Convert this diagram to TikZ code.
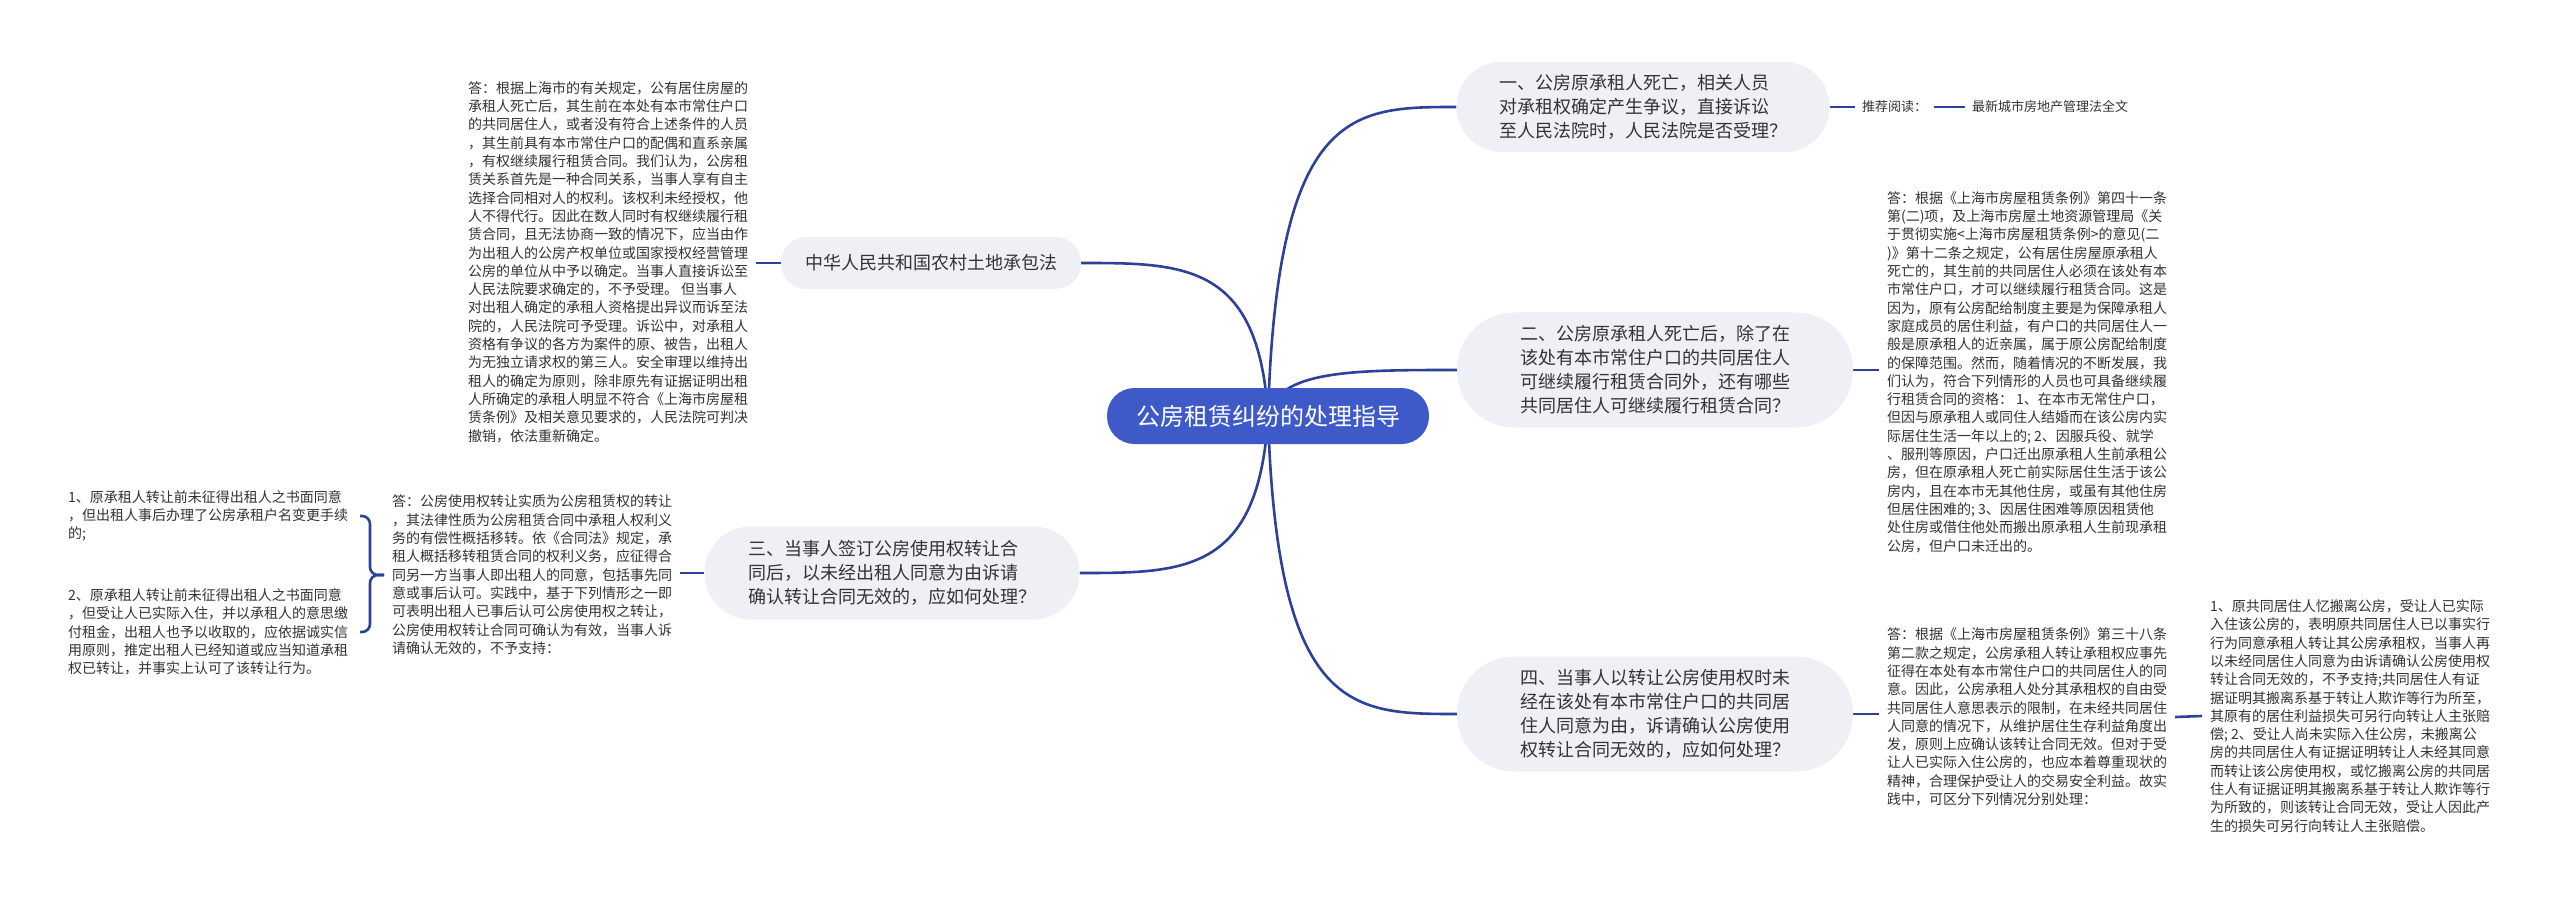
\documentclass[tikz,border=0pt]{standalone}
\usepackage{fontspec}
\setmainfont{Noto Sans CJK SC}
\usetikzlibrary{calc}
\definecolor{rootblue}{HTML}{3D5AC8}
\definecolor{lineblue}{HTML}{2E4199}
\definecolor{bubfill}{HTML}{EEF0F5}
\definecolor{txtgray}{HTML}{333333}
\pgfdeclarelayer{bg}
\pgfsetlayers{bg,main}
\begin{document}
\begin{tikzpicture}[x=1pt,y=-1pt,
  conn/.style={draw=lineblue, line width=2.6pt},
  mmroot/.style={fill=rootblue, text=white, font=\fontsize{24pt}{30pt}\selectfont,
    minimum width=322pt, minimum height=56pt, rounded corners=27.5pt, inner sep=0pt},
  mmtopic/.style={fill=bubfill, text=txtgray, align=left,
    font=\fontsize{18pt}{24pt}\selectfont, inner sep=0pt},
  ansbox/.style={text=txtgray, align=left, font=\fontsize{14pt}{18.3pt}\selectfont,
    inner sep=0pt, outer xsep=8pt},
  linkbox/.style={text=txtgray, font=\fontsize{13pt}{16pt}\selectfont,
    inner sep=0pt, outer xsep=7pt}
]
\useasboundingbox (0,0) rectangle (2560,901);

% root
\node[mmroot] (root) at (1268,416) {公房租赁纠纷的处理指导};

% right topics
\node[mmtopic, minimum width=373pt, minimum height=90pt, rounded corners=44.5pt] (t1) at (1643,107)
 {一、公房原承租人死亡，相关人员\\对承租权确定产生争议，直接诉讼\\至人民法院时，人民法院是否受理？};
\node[mmtopic, minimum width=396pt, minimum height=115pt, rounded corners=57pt] (t2) at (1655,370)
 {二、公房原承租人死亡后，除了在\\该处有本市常住户口的共同居住人\\可继续履行租赁合同外，还有哪些\\共同居住人可继续履行租赁合同？};
\node[mmtopic, minimum width=396pt, minimum height=115pt, rounded corners=57pt] (t4) at (1655,714)
 {四、当事人以转让公房使用权时未\\经在该处有本市常住户口的共同居\\住人同意为由，诉请确认公房使用\\权转让合同无效的，应如何处理？};

% left topics
\node[mmtopic, minimum width=300pt, minimum height=52pt, rounded corners=25.5pt] (tz) at (931,263)
 {中华人民共和国农村土地承包法};
\node[mmtopic, minimum width=375pt, minimum height=93pt, rounded corners=46pt] (t3) at (892,573)
 {三、当事人签订公房使用权转让合\\同后，以未经出租人同意为由诉请\\确认转让合同无效的，应如何处理？};

% topic 1 children
\node[linkbox, anchor=west] (rec) at (1855,107) {推荐阅读：};
\node[linkbox, anchor=west] (law) at (1965,107) {最新城市房地产管理法全文};

% answer to 中华...
\node[ansbox, anchor=west] (ansz) at (460,262)
 {答：根据上海市的有关规定，公有居住房屋的\\承租人死亡后，其生前在本处有本市常住户口\\的共同居住人，或者没有符合上述条件的人员\\，其生前具有本市常住户口的配偶和直系亲属\\，有权继续履行租赁合同。我们认为，公房租\\赁关系首先是一种合同关系，当事人享有自主\\选择合同相对人的权利。该权利未经授权，他\\人不得代行。因此在数人同时有权继续履行租\\赁合同，且无法协商一致的情况下，应当由作\\为出租人的公房产权单位或国家授权经营管理\\公房的单位从中予以确定。当事人直接诉讼至\\人民法院要求确定的，不予受理。 但当事人\\对出租人确定的承租人资格提出异议而诉至法\\院的，人民法院可予受理。诉讼中，对承租人\\资格有争议的各方为案件的原、被告，出租人\\为无独立请求权的第三人。安全审理以维持出\\租人的确定为原则，除非原先有证据证明出租\\人所确定的承租人明显不符合《上海市房屋租\\赁条例》及相关意见要求的，人民法院可判决\\撤销，依法重新确定。};

% answer to topic 2
\node[ansbox, anchor=west] (ans2) at (1879,372)
 {答：根据《上海市房屋租赁条例》第四十一条\\第(二)项，及上海市房屋土地资源管理局《关\\于贯彻实施<上海市房屋租赁条例>的意见(二\\)》第十二条之规定，公有居住房屋原承租人\\死亡的，其生前的共同居住人必须在该处有本\\市常住户口，才可以继续履行租赁合同。这是\\因为，原有公房配给制度主要是为保障承租人\\家庭成员的居住利益，有户口的共同居住人一\\般是原承租人的近亲属，属于原公房配给制度\\的保障范围。然而，随着情况的不断发展，我\\们认为，符合下列情形的人员也可具备继续履\\行租赁合同的资格： 1、在本市无常住户口，\\但因与原承租人或同住人结婚而在该公房内实\\际居住生活一年以上的; 2、因服兵役、就学\\、服刑等原因，户口迁出原承租人生前承租公\\房，但在原承租人死亡前实际居住生活于该公\\房内，且在本市无其他住房，或虽有其他住房\\但居住困难的; 3、因居住困难等原因租赁他\\处住房或借住他处而搬出原承租人生前现承租\\公房，但户口未迁出的。};

% answer to topic 4
\node[ansbox, anchor=west] (ans4) at (1879,717)
 {答：根据《上海市房屋租赁条例》第三十八条\\第二款之规定，公房承租人转让承租权应事先\\征得在本处有本市常住户口的共同居住人的同\\意。因此，公房承租人处分其承租权的自由受\\共同居住人意思表示的限制，在未经共同居住\\人同意的情况下，从维护居住生存利益角度出\\发，原则上应确认该转让合同无效。但对于受\\让人已实际入住公房的，也应本着尊重现状的\\精神，合理保护受让人的交易安全利益。故实\\践中，可区分下列情况分别处理：};

\node[ansbox, anchor=west] (ans4b) at (2202,716)
 {1、原共同居住人忆搬离公房，受让人已实际\\入住该公房的，表明原共同居住人已以事实行\\行为同意承租人转让其公房承租权，当事人再\\以未经同居住人同意为由诉请确认公房使用权\\转让合同无效的，不予支持;共同居住人有证\\据证明其搬离系基于转让人欺诈等行为所至，\\其原有的居住利益损失可另行向转让人主张赔\\偿; 2、受让人尚未实际入住公房，未搬离公\\房的共同居住人有证据证明转让人未经其同意\\而转让该公房使用权，或忆搬离公房的共同居\\住人有证据证明其搬离系基于转让人欺诈等行\\为所致的，则该转让合同无效，受让人因此产\\生的损失可另行向转让人主张赔偿。};

% answer to topic 3
\node[ansbox, anchor=west] (ans3) at (384,575)
 {答：公房使用权转让实质为公房租赁权的转让\\，其法律性质为公房租赁合同中承租人权利义\\务的有偿性概括移转。依《合同法》规定，承\\租人概括移转租赁合同的权利义务，应征得合\\同另一方当事人即出租人的同意，包括事先同\\意或事后认可。实践中，基于下列情形之一即\\可表明出租人已事后认可公房使用权之转让，\\公房使用权转让合同可确认为有效，当事人诉\\请确认无效的，不予支持：};

\node[ansbox, anchor=west, outer xsep=0pt] (it1) at (68,516)
 {1、原承租人转让前未征得出租人之书面同意\\，但出租人事后办理了公房承租户名变更手续\\的;};
\node[ansbox, anchor=west, outer xsep=0pt] (it2) at (68,632)
 {2、原承租人转让前未征得出租人之书面同意\\，但受让人已实际入住，并以承租人的意思缴\\付租金，出租人也予以收取的，应依据诚实信\\用原则，推定出租人已经知道或应当知道承租\\权已转让，并事实上认可了该转让行为。};

\begin{pgfonlayer}{bg}
  \fill[white] (0,0) rectangle (2560,901);
  % root curves
  \draw[conn] (root.center) .. controls (1277,107) and (1353,107) .. (t1.west);
  \draw[conn] (root.center) .. controls (1277,370) and (1353,370) .. (t2.west);
  \draw[conn] (root.center) .. controls (1277,714) and (1353,714) .. (t4.west);
  \draw[conn] (root.center) .. controls (1259,263) and (1184,263) .. (tz.east);
  \draw[conn] (root.center) .. controls (1259,573) and (1184,573) .. (t3.east);
  % straight links
  \draw[conn] (t1.east) -- (rec.west);
  \draw[conn] (rec.east) -- (law.west);
  \draw[conn] (t2.east) -- (ans2.west |- t2.east);
  \draw[conn] (t4.east) -- (ans4.west |- t4.east);
  \draw[conn] (ans4.east) -- (ans4b.west);
  \draw[conn] (tz.west) -- (ansz.east |- tz.west);
  \draw[conn] (t3.west) -- (ans3.east |- t3.west);
  % bracket
  \draw[conn, rounded corners=8pt] (ans3.west) -- ++(-14,0) |- ($(it1.east)+(12,0)$);
  \draw[conn, rounded corners=8pt] (ans3.west) -- ++(-14,0) |- ($(it2.east)+(12,0)$);
\end{pgfonlayer}
\end{tikzpicture}
\end{document}
